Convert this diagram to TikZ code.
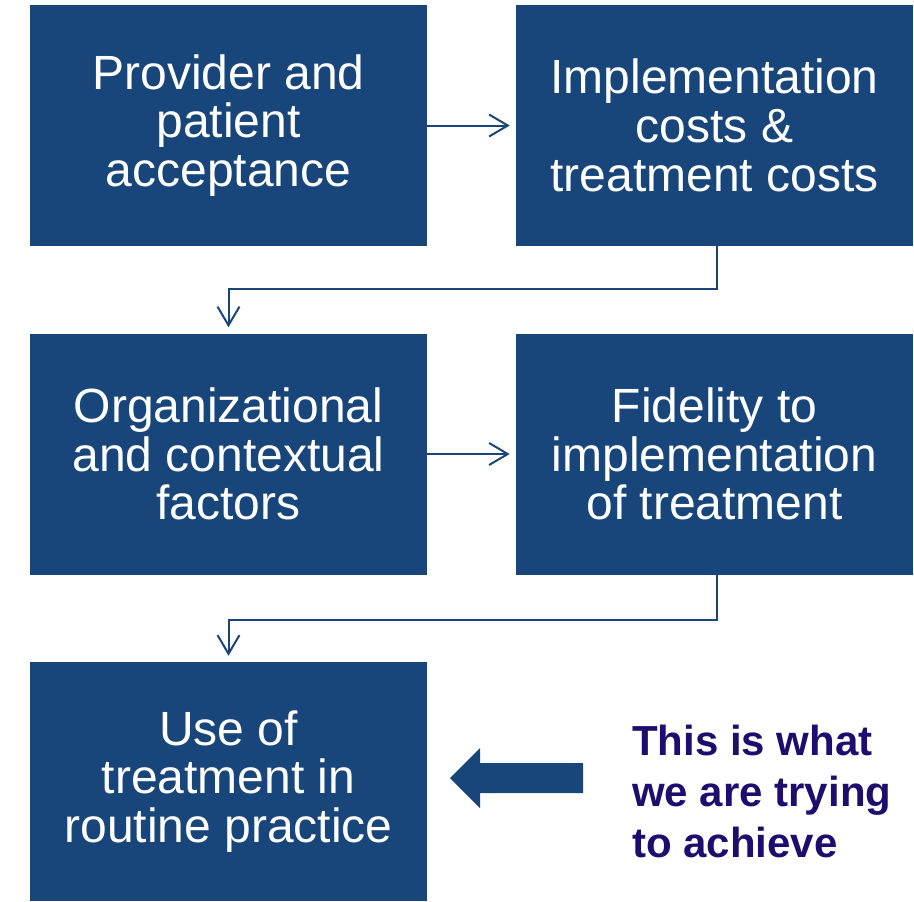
\documentclass[tikz,border=0pt]{standalone}
\usepackage{fontspec}
\setmainfont{Liberation Sans}
\usetikzlibrary{arrows.meta}
\definecolor{boxblue}{RGB}{24,70,122}
\definecolor{textpurple}{RGB}{30,12,110}
\begin{document}
\begin{tikzpicture}[x=0.75pt,y=-0.75pt,
  bluebox/.style={fill=boxblue,draw=none,minimum width=297.75pt,minimum height=180.75pt,
    text=white,align=center,inner sep=0pt,font=\fontsize{36}{36.5}\selectfont},
  conn/.style={draw=boxblue,line width=1.5pt,
    -{Straight Barb[length=14pt,width=16.5pt,line width=1.5pt]},shorten >=4.5pt}]
\useasboundingbox (0,0) rectangle (914,901);
\node[bluebox] (b1) at (228.5,125.5) {Provider and\\patient\\acceptance};
\node[bluebox] (b2) at (714.5,125.5) {Implementation\\costs \&\\treatment costs};
\node[bluebox] (b3) at (228.5,454) {Organizational\\and contextual\\factors};
\node[bluebox] (b4) at (714.5,454) {Fidelity to\\implementation\\of treatment};
\node[bluebox,minimum height=179.25pt] (b5) at (228.5,781.5) {Use of\\treatment in\\routine practice};
\draw[conn] (b1.east) -- (b2.west);
\draw[conn] (b3.east) -- (b4.west);
\draw[conn] ([xshift=1.5pt]b2.south) -- ++(0,43) -| (b3.north);
\draw[conn] ([xshift=1.5pt]b4.south) -- ++(0,45) -| (b5.north);
\fill[boxblue] (583,763) -- (480,763) -- (480,748) -- (450,778) -- (480,808) -- (480,793) -- (583,793) -- cycle;
\node[anchor=base west,inner sep=0pt,align=left,text=textpurple,
  font=\fontsize{31.5}{38}\selectfont\bfseries] (note) at (632,857)
  {This is what\\we are trying\\to achieve};
\end{tikzpicture}
\end{document}
